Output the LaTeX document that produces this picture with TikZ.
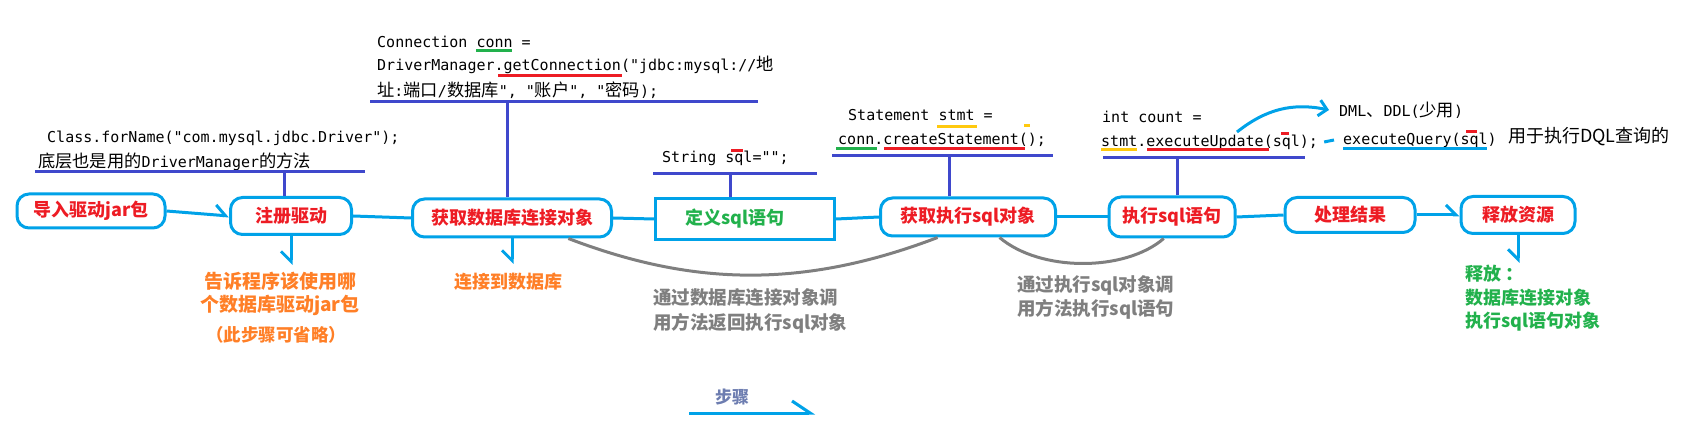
\documentclass[tikz,border=0pt]{standalone}
\usepackage{fontspec}
\setmainfont{Noto Sans CJK SC}
\newfontfamily\codefont{DejaVu Sans Mono}
\newfontfamily\zhcodefont{Noto Sans CJK SC}[Scale=1.15]
\newcommand{\zhc}[1]{{\zhcodefont #1}}
\usetikzlibrary{arrows.meta}

\definecolor{paintblue}{HTML}{00A2E8}
\definecolor{paintindigo}{HTML}{3F48CC}
\definecolor{paintred}{HTML}{ED1C24}
\definecolor{paintgreen}{HTML}{22B14C}
\definecolor{paintorange}{HTML}{FF7F27}
\definecolor{paintgold}{HTML}{FFC90E}
\definecolor{paintgray}{HTML}{7F7F7F}
\definecolor{stepblue}{HTML}{6D7DB0}

\tikzset{
  stepbox/.style={draw=paintblue, line width=3pt, rounded corners=12pt, text=paintred,
    font=\bfseries\fontsize{18}{20}\selectfont, inner sep=0pt},
  flow/.style={draw=paintblue, line width=3pt},
  flowbarb/.style={flow, -{Straight Barb[left,length=10pt,width=20pt]}},
  downbarb/.style={flow, -{Straight Barb[right,length=10pt,width=20pt]}},
  codeline/.style={draw=paintindigo, line width=3pt},
  code/.style={font=\codefont\fontsize{15}{18}\selectfont, anchor=west, inner sep=0pt},
  hl/.style={line width=3pt},
  linkcurve/.style={draw=paintgray, line width=3pt},
  note/.style={font=\bfseries\fontsize{18}{24}\selectfont, inner sep=0pt, align=left}
}

\begin{document}
\begin{tikzpicture}[x=1pt, y=-1pt]
        \useasboundingbox (0,0) rectangle (1681,430);

        % Steps
        \node[stepbox, minimum width=148pt, minimum height=34pt] (b1) at (91,211) {导入驱动jar包};
        \node[stepbox, minimum width=121pt, minimum height=37pt] (b2) at (291,216) {注册驱动};
        \node[stepbox, minimum width=199pt, minimum height=38pt] (b3) at (512,218) {获取数据库连接对象};
        \node[stepbox, rounded corners=0pt, text=paintgreen, minimum width=179pt, minimum height=41pt] (b4) at (745,219) {定义sql语句\hspace*{20pt}};
        \node[stepbox, minimum width=175pt, minimum height=38pt] (b5) at (968,217) {获取执行sql对象};
        \node[stepbox, minimum width=126pt, minimum height=40pt] (b6) at (1172,217) {执行sql语句};
        \node[stepbox, minimum width=130pt, minimum height=35pt] (b7) at (1350,215) {处理结果};
        \node[stepbox, minimum width=114pt, minimum height=37pt] (b8) at (1518,215) {释放资源};

        % Flow between steps
        \draw[flowbarb] (b1.east) -- (b2.west);
        \draw[flow] (b2.east) -- (b3.west);
        \draw[flow] (b3.east) -- (b4.west);
        \draw[flow] (b4.east) -- (b5.west);
        \draw[flow] (b5.east) -- (b6.west);
        \draw[flow] (b6.east) -- (b7.west);
        \draw[flowbarb] (b7.east) -- (b8.west);

        % Notes below
        \node[note, align=center, anchor=north, text=paintorange, font=\bfseries\fontsize{19}{23}\selectfont] (n2) at (280,272) {告诉程序该使用哪\\个数据库驱动jar包};
        \node[note, text=paintorange, font=\bfseries\fontsize{17.5}{20}\selectfont] (n2b) at (276,335) {（此步骤可省略）};
        \node[note, anchor=north, text=paintorange] (n3) at (508,273) {连接到数据库};
        \node[note, anchor=north west, text=paintgreen, font=\bfseries\fontsize{18}{23.5}\selectfont] (n8) at (1465,265) {释放 ：\\数据库连接对象\\执行sql语句对象};
        \draw[downbarb, shorten >=7pt] (b2.south) -- (b2.south |- n2.north);
        \draw[downbarb, shorten >=9pt] (b3.south) -- (b3.south |- n3.north);
        \draw[downbarb, shorten >=2pt] (b8.south) -- (b8.south |- n8.north);

        % Gray links
        \node[note, anchor=north west, text=paintgray, font=\bfseries\fontsize{18.5}{25}\selectfont] (g1) at (653,288) {通过数据库连接对象调\\用方法返回执行sql对象};
        \node[note, anchor=north west, text=paintgray, font=\bfseries\fontsize{18.5}{24}\selectfont] (g2) at (1017,275) {通过执行sql对象调\\用方法执行sql语句};
        \draw[linkcurve] (b3.-20) .. controls (690,285) and (800,290) .. (b5.-146);
        \draw[linkcurve] (b5.-33) .. controls (1040,272) and (1125,272) .. (b6.-111);

        % Code for each step
        \node[code] (c1a) at (47,138) {Class.forName("com.mysql.jdbc.Driver");};
        \node[code] (c1b) at (38,162) {\zhc{底层也是用的}DriverManager\zhc{的方法}};
        \node[code] (c2a) at (377,42) {Connection conn =};
        \node[code] (c2b) at (377,65) {DriverManager.getConnection("jdbc:mysql://\zhc{地}};
        \node[code] (c2c) at (377,90) {\zhc{址}:\zhc{端口}/\zhc{数据库}", "\zhc{账户}", "\zhc{密码});};
        \node[code] (c4) at (662,158) {String sql="";};
        \node[code] (c5a) at (848,115) {Statement stmt =};
        \node[code] (c5b) at (838,140) {conn.createStatement();};
        \node[code] (c6a) at (1102,117) {int count =};
        \node[code] (c6b) at (1101,142) {stmt.executeUpdate(sql);};
        \node[code] (dml) at (1339,110) {DML\zhc{、}DDL(\zhc{少用})};
        \node[code] (qry) at (1343,140) {executeQuery(sql)};
        \node[code, font=\fontsize{18}{20}\selectfont] (dql) at (1508,137) {用于执行DQL查询的};

        % Code lines to steps
        \coordinate (s2) at (284,172);
        \coordinate (s3) at (507,102);
        \coordinate (s4) at (730,174);
        \coordinate (s5) at (949,156);
        \coordinate (s6) at (1177,158);
        \draw[codeline] (35,172) -- (365,172);
        \draw[codeline] (370,102) -- (758,102);
        \draw[codeline] (653,174) -- (817,174);
        \draw[codeline] (832,156) -- (1053,156);
        \draw[codeline] (1103,158) -- (1305,158);
        \draw[codeline] (b2.north -| s2) -- (s2);
        \draw[codeline] (b3.north -| s3) -- (s3);
        \draw[codeline] (b4.north -| s4) -- (s4);
        \draw[codeline] (b5.north -| s5) -- (s5);
        \draw[codeline] (b6.north -| s6) -- (s6);

        % Underlines
        \draw[hl, paintgreen] (476,51) -- (512,51);
        \draw[hl, paintred] (498,76) -- (622,76);
        \draw[hl, paintred] (731,151) -- (743,151);
        \draw[hl, paintgold] (937,127) -- (977,127);
        \draw[hl, paintgold] (1024,126) -- (1030,126);
        \draw[hl, paintgreen] (836,149) -- (877,149);
        \draw[hl, paintred] (884,149) -- (1025,149);
        \draw[hl, paintgold] (1101,150) -- (1137,150);
        \draw[hl, paintred] (1147,150) -- (1269,150);
        \draw[hl, paintred] (1281,134) -- (1289,134);
        \draw[hl, paintblue] (1343,149) -- (1487,149);
        \draw[hl, paintred] (1466,132) -- (1477,132);

        % executeUpdate vs executeQuery
        \coordinate (arcs) at (1237,132);
        \draw[flow, -{Straight Barb[length=8pt,width=16pt]}] (arcs) to[bend left=25] ([xshift=-10pt]dml.west);
        \draw[flow] ([xshift=6pt]c6b.east) -- ([xshift=-9pt]qry.west);

        % Steps arrow
        \node[font=\bfseries\fontsize{17}{20}\selectfont, text=stepblue, inner sep=0pt] (steps) at (732,397) {步骤};
        \coordinate (sta) at (689,413);
        \coordinate (stb) at (815,413);
        \draw[flow, -{Straight Barb[left,length=18pt,width=24pt]}] (sta) -- (stb);
\end{tikzpicture}
\end{document}
